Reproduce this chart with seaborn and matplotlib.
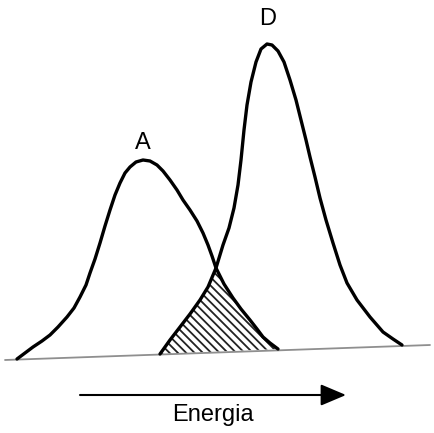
import numpy as np
import pandas as pd
import matplotlib
matplotlib.use("Agg")
import matplotlib.pyplot as plt
import seaborn as sns

# Curve A (pixel-like coordinates: x = energy, y = screen row)
a_x = [17, 25, 33, 42, 50, 58, 67, 74, 80, 86, 90, 95, 100, 105, 110, 115, 120, 125, 130, 136,
       143, 150, 157, 163, 170, 177, 183, 190, 197, 203, 208, 212, 216, 224, 233, 241, 250, 257,
       263, 270, 278]
a_y = [359, 353, 347, 341, 335, 327, 317, 308, 297, 285, 273, 259, 243, 226, 210, 195, 183, 173, 167, 162,
       160, 161, 165, 171, 180, 190, 200, 210, 221, 233, 245, 256, 268, 284, 298, 309, 320, 329,
       337, 343, 349]

# Curve D
d_x = [160, 170, 180, 190, 200, 208, 216, 223, 229, 234, 238, 241, 244, 247, 251, 256, 261, 267,
       272, 278, 284, 290, 296, 301, 306, 310, 315, 320, 326, 333, 340, 347, 357, 370, 383, 393, 402]
d_y = [354, 340, 327, 314, 300, 287, 268, 245, 228, 208, 185, 160, 130, 105, 82, 62, 49, 44,
       45, 51, 62, 80, 100, 120, 140, 157, 177, 198, 220, 243, 265, 283, 300, 317, 332, 339, 345]

# Baseline
base_x = [5, 430]
base_y = [360, 345]

labels = ["A", "D", "Energia"]
cross_x = 216

sns.set_theme(style="white")
plt.rcParams['font.family'] = ['Liberation Sans', 'DejaVu Sans']

fig = plt.figure(figsize=(4.34, 4.33), dpi=100)
ax = fig.add_axes([0, 0, 1, 1])
ax.set_xlim(0, 434)
ax.set_ylim(433, 0)
ax.axis("off")

# baseline
sns.lineplot(x=base_x, y=base_y, ax=ax, color="#8f8f8f", lw=1.3, sort=False)

# hatched overlap
dl = [(x, y) for x, y in zip(d_x, d_y) if x <= cross_x]
ar = [(x, y) for x, y in zip(a_x, a_y) if x >= cross_x]
poly = dl + ar
px = [p[0] for p in poly]
py = [p[1] for p in poly]
plt.rcParams['hatch.linewidth'] = 1.3
ax.fill(px, py, facecolor="white", edgecolor="#222222", hatch="\\\\\\\\", lw=0)

dfa = pd.DataFrame({"x": a_x, "y": a_y})
dfd = pd.DataFrame({"x": d_x, "y": d_y})
sns.lineplot(data=dfa, x="x", y="y", ax=ax, color="black", lw=2.4, sort=False)
sns.lineplot(data=dfd, x="x", y="y", ax=ax, color="black", lw=2.4, sort=False)

ax.text(143, 143, labels[0], ha="center", va="center", fontsize=17, color="black")
ax.text(268, 19, labels[1], ha="center", va="center", fontsize=17, color="black")

ax.annotate("", xy=(346, 395), xytext=(80, 395),
            arrowprops=dict(arrowstyle="-|>,head_length=1.3,head_width=0.55",
                            color="black", lw=1.5, shrinkA=0, shrinkB=0))
ax.text(213, 415, labels[2], ha="center", va="center", fontsize=17, color="black")

fig.savefig("out.png", dpi=100, facecolor="white")
